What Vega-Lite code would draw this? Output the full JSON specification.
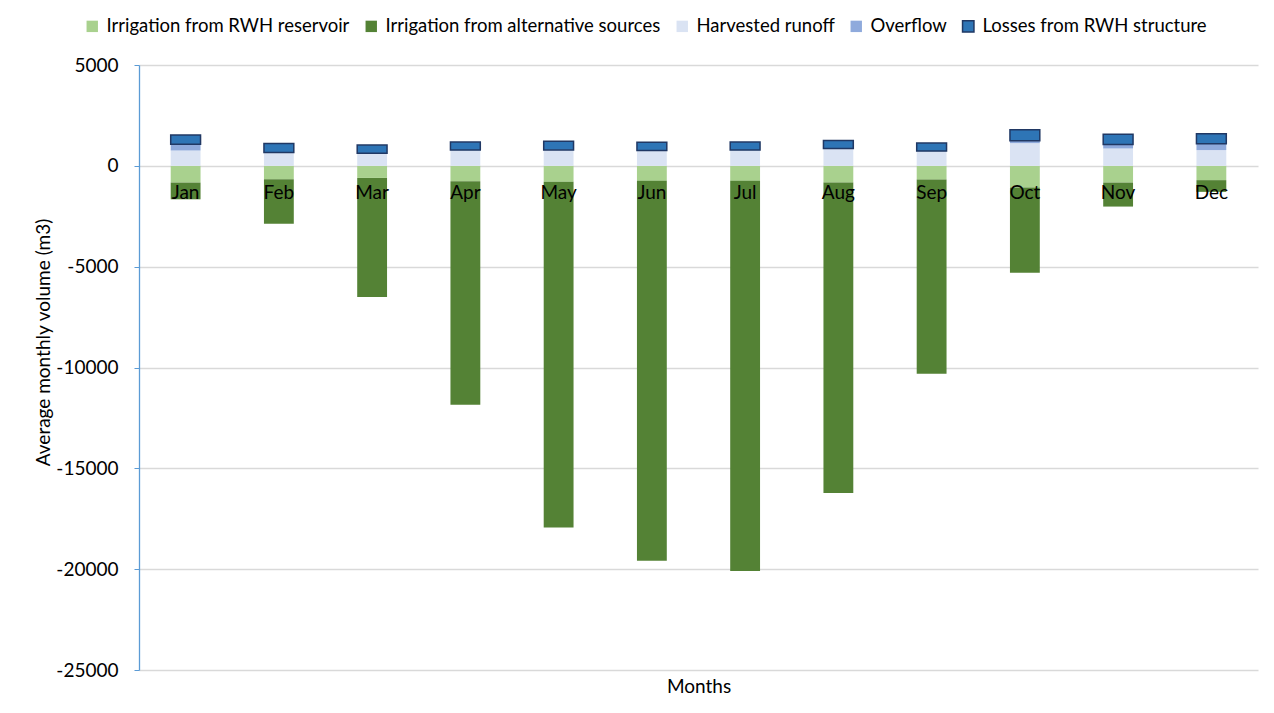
{
  "$schema": "https://vega.github.io/schema/vega-lite/v6.json",
  "autosize": {"type": "none"},
  "padding": {"left": 139, "top": 65, "right": 16, "bottom": 43},
  "width": 1119,
  "height": 605,
  "background": "white",
  "config": {
    "font": "Lato",
    "view": {"stroke": null}
  },
  "data": {
    "values": [
      {"month": "Jan", "series": "Irrigation from RWH reservoir", "value": -830},
      {"month": "Jan", "series": "Irrigation from alternative sources", "value": -830},
      {"month": "Jan", "series": "Harvested runoff", "value": 760},
      {"month": "Jan", "series": "Overflow", "value": 310},
      {"month": "Jan", "series": "Losses from RWH structure", "value": 460},
      {"month": "Feb", "series": "Irrigation from RWH reservoir", "value": -660},
      {"month": "Feb", "series": "Irrigation from alternative sources", "value": -2215},
      {"month": "Feb", "series": "Harvested runoff", "value": 660},
      {"month": "Feb", "series": "Overflow", "value": 0},
      {"month": "Feb", "series": "Losses from RWH structure", "value": 450},
      {"month": "Mar", "series": "Irrigation from RWH reservoir", "value": -600},
      {"month": "Mar", "series": "Irrigation from alternative sources", "value": -5900},
      {"month": "Mar", "series": "Harvested runoff", "value": 630},
      {"month": "Mar", "series": "Overflow", "value": 0},
      {"month": "Mar", "series": "Losses from RWH structure", "value": 400},
      {"month": "Apr", "series": "Irrigation from RWH reservoir", "value": -760},
      {"month": "Apr", "series": "Irrigation from alternative sources", "value": -11090},
      {"month": "Apr", "series": "Harvested runoff", "value": 780},
      {"month": "Apr", "series": "Overflow", "value": 0},
      {"month": "Apr", "series": "Losses from RWH structure", "value": 400},
      {"month": "May", "series": "Irrigation from RWH reservoir", "value": -790},
      {"month": "May", "series": "Irrigation from alternative sources", "value": -17150},
      {"month": "May", "series": "Harvested runoff", "value": 790},
      {"month": "May", "series": "Overflow", "value": 0},
      {"month": "May", "series": "Losses from RWH structure", "value": 430},
      {"month": "Jun", "series": "Irrigation from RWH reservoir", "value": -745},
      {"month": "Jun", "series": "Irrigation from alternative sources", "value": -18840},
      {"month": "Jun", "series": "Harvested runoff", "value": 760},
      {"month": "Jun", "series": "Overflow", "value": 0},
      {"month": "Jun", "series": "Losses from RWH structure", "value": 410},
      {"month": "Jul", "series": "Irrigation from RWH reservoir", "value": -745},
      {"month": "Jul", "series": "Irrigation from alternative sources", "value": -19340},
      {"month": "Jul", "series": "Harvested runoff", "value": 780},
      {"month": "Jul", "series": "Overflow", "value": 0},
      {"month": "Jul", "series": "Losses from RWH structure", "value": 400},
      {"month": "Aug", "series": "Irrigation from RWH reservoir", "value": -830},
      {"month": "Aug", "series": "Irrigation from alternative sources", "value": -15390},
      {"month": "Aug", "series": "Harvested runoff", "value": 860},
      {"month": "Aug", "series": "Overflow", "value": 0},
      {"month": "Aug", "series": "Losses from RWH structure", "value": 400},
      {"month": "Sep", "series": "Irrigation from RWH reservoir", "value": -680},
      {"month": "Sep", "series": "Irrigation from alternative sources", "value": -9635},
      {"month": "Sep", "series": "Harvested runoff", "value": 730},
      {"month": "Sep", "series": "Overflow", "value": 0},
      {"month": "Sep", "series": "Losses from RWH structure", "value": 400},
      {"month": "Oct", "series": "Irrigation from RWH reservoir", "value": -1075},
      {"month": "Oct", "series": "Irrigation from alternative sources", "value": -4230},
      {"month": "Oct", "series": "Harvested runoff", "value": 1125},
      {"month": "Oct", "series": "Overflow", "value": 115},
      {"month": "Oct", "series": "Losses from RWH structure", "value": 545},
      {"month": "Nov", "series": "Irrigation from RWH reservoir", "value": -830},
      {"month": "Nov", "series": "Irrigation from alternative sources", "value": -1190},
      {"month": "Nov", "series": "Harvested runoff", "value": 860},
      {"month": "Nov", "series": "Overflow", "value": 200},
      {"month": "Nov", "series": "Losses from RWH structure", "value": 500},
      {"month": "Dec", "series": "Irrigation from RWH reservoir", "value": -710},
      {"month": "Dec", "series": "Irrigation from alternative sources", "value": -580},
      {"month": "Dec", "series": "Harvested runoff", "value": 780},
      {"month": "Dec", "series": "Overflow", "value": 310},
      {"month": "Dec", "series": "Losses from RWH structure", "value": 500}
    ]
  },
  "transform": [
    {"calculate": "indexof(['Irrigation from RWH reservoir','Irrigation from alternative sources','Harvested runoff','Overflow','Losses from RWH structure'], datum.series)", "as": "stackOrder"}
  ],
  "mark": {"type": "bar", "strokeWidth": 1.5},
  "encoding": {
    "x": {
      "field": "month",
      "type": "nominal",
      "sort": ["Jan", "Feb", "Mar", "Apr", "May", "Jun", "Jul", "Aug", "Sep", "Oct", "Nov", "Dec"],
      "scale": {"paddingInner": 0.68, "paddingOuter": 0.34},
      "axis": {
        "orient": "bottom",
        "offset": -504.2,
        "domain": false,
        "ticks": false,
        "labelAngle": 0,
        "labelFontSize": 19,
        "labelColor": "#000000",
        "labelPadding": 18,
        "labelBaseline": "top",
        "zindex": 1,
        "title": "Months",
        "titleFontSize": 19,
        "titleFontWeight": "normal",
        "titleColor": "#000000",
        "titleBaseline": "middle",
        "titleY": 521
      }
    },
    "y": {
      "field": "value",
      "type": "quantitative",
      "stack": "zero",
      "scale": {"domain": [-25000, 5000], "nice": false},
      "axis": {
        "values": [-25000, -20000, -15000, -10000, -5000, 0, 5000],
        "labelExpr": "'' + datum.value",
        "grid": true,
        "gridColor": "#D9D9D9",
        "gridWidth": 1.3,
        "domainColor": "#5B9BD5",
        "domainWidth": 1.3,
        "tickColor": "#5B9BD5",
        "tickSize": 5,
        "labelFontSize": 19,
        "labelColor": "#000000",
        "labelPadding": 16,
        "title": "Average monthly volume (m3)",
        "titleFontSize": 19,
        "titleFontWeight": "normal",
        "titleColor": "#000000",
        "titleAngle": 270,
        "titleAlign": "center",
        "titleBaseline": "middle",
        "titleX": -96,
        "titleY": 277
      }
    },
    "order": {"field": "stackOrder", "type": "quantitative"},
    "color": {
      "field": "series",
      "type": "nominal",
      "scale": {
        "domain": ["Irrigation from RWH reservoir", "Irrigation from alternative sources", "Harvested runoff", "Overflow", "Losses from RWH structure"],
        "range": ["#A9D18E", "#548235", "#DAE3F3", "#8FAADC", "#2E75B6"]
      },
      "legend": {
        "orient": "none",
        "direction": "horizontal",
        "legendX": -56,
        "legendY": -48,
        "title": null,
        "symbolType": "square",
        "symbolSize": 130,
        "symbolStrokeWidth": 1.5,
        "labelFontSize": 18.5,
        "labelLimit": 500,
        "labelColor": "#000000",
        "labelOffset": 5,
        "columnPadding": 12
      }
    },
    "stroke": {
      "field": "series",
      "type": "nominal",
      "scale": {
        "domain": ["Irrigation from RWH reservoir", "Irrigation from alternative sources", "Harvested runoff", "Overflow", "Losses from RWH structure"],
        "range": ["transparent", "transparent", "transparent", "transparent", "#203864"]
      }
    }
  }
}
